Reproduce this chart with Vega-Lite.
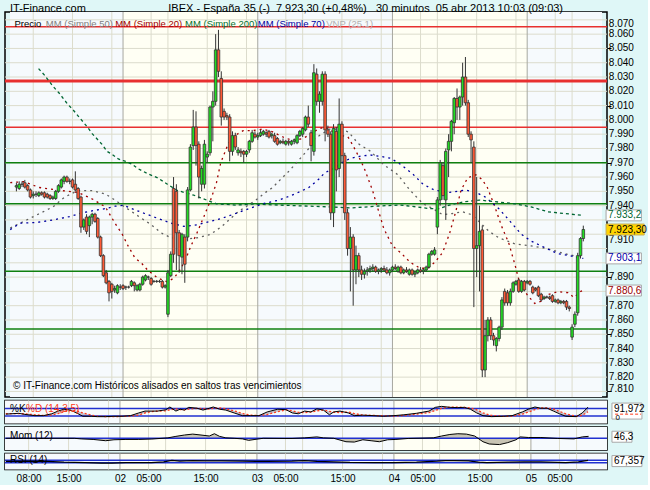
{
"$schema": "https://vega.github.io/schema/vega-lite/v6.json",
"background": "#dff7f7",
"padding": {"left": 2, "top": 2, "right": 0, "bottom": 0},
"title": {"text": "IT-Finance.com\u00a0\u00a0\u00a0\u00a0\u00a0\u00a0\u00a0\u00a0\u00a0\u00a0\u00a0\u00a0\u00a0\u00a0\u00a0\u00a0\u00a0\u00a0\u00a0\u00a0\u00a0\u00a0\u00a0\u00a0\u00a0\u00a0\u00a0IBEX - España 35 (-)\u00a0\u00a07.923,30 (+0,48%)\u00a0\u00a0\u00a030 minutos\u00a0\u00a005 abr 2013 10:03 (09:03)", "anchor": "start", "frame": "group", "dx": 5, "offset": -3, "font": "Liberation Sans", "fontSize": 11, "fontWeight": "normal", "color": "#000"},
"spacing": 3.5,
"bounds": "flush",
"config": {"view": {"stroke": "#000", "strokeWidth": 1.5}, "text": {"font": "Liberation Sans"}, "axis": {"labelOverlap": false, "labelFont": "Liberation Sans", "titleFontSize": 0}},
"datasets": {
"bands": [{"i": -2.28, "i2": 38, "k": "a"}, {"i": 38, "i2": 86, "k": "b"}, {"i": 86, "i2": 134, "k": "a"}, {"i": 134, "i2": 182, "k": "b"}, {"i": 182, "i2": 208.66, "k": "a"}],
"gridx": [{"g": 6, "k": "l"}, {"g": 20, "k": "l"}, {"g": 34, "k": "l"}, {"g": 38, "k": "d"}, {"g": 48, "k": "l"}, {"g": 54, "k": "l"}, {"g": 68, "k": "l"}, {"g": 82, "k": "l"}, {"g": 86, "k": "d"}, {"g": 96, "k": "l"}, {"g": 102, "k": "l"}, {"g": 116, "k": "l"}, {"g": 130, "k": "l"}, {"g": 134, "k": "d"}, {"g": 144, "k": "l"}, {"g": 150, "k": "l"}, {"g": 164, "k": "l"}, {"g": 178, "k": "l"}, {"g": 182, "k": "d"}, {"g": 192, "k": "l"}, {"g": 198, "k": "l"}],
"gridy": [{"v": 7810}, {"v": 7820}, {"v": 7830}, {"v": 7840}, {"v": 7850}, {"v": 7860}, {"v": 7870}, {"v": 7880}, {"v": 7890}, {"v": 7900}, {"v": 7910}, {"v": 7920}, {"v": 7930}, {"v": 7940}, {"v": 7950}, {"v": 7960}, {"v": 7970}, {"v": 7980}, {"v": 7990}, {"v": 8000}, {"v": 8010}, {"v": 8020}, {"v": 8030}, {"v": 8040}, {"v": 8050}, {"v": 8060}, {"v": 8070}],
"ylab": [{"v": 7810, "lab": "7.810", "k": "b"}, {"v": 7820, "lab": "7.820", "k": "n"}, {"v": 7830, "lab": "7.830", "k": "n"}, {"v": 7840, "lab": "7.840", "k": "n"}, {"v": 7850, "lab": "7.850", "k": "n"}, {"v": 7860, "lab": "7.860", "k": "n"}, {"v": 7870, "lab": "7.870", "k": "n"}, {"v": 7890, "lab": "7.890", "k": "n"}, {"v": 7910, "lab": "7.910", "k": "s"}, {"v": 7940, "lab": "7.940", "k": "n"}, {"v": 7950, "lab": "7.950", "k": "n"}, {"v": 7960, "lab": "7.960", "k": "n"}, {"v": 7970, "lab": "7.970", "k": "n"}, {"v": 7980, "lab": "7.980", "k": "n"}, {"v": 7990, "lab": "7.990", "k": "n"}, {"v": 8000, "lab": "8.000", "k": "n"}, {"v": 8010, "lab": "8.010", "k": "n"}, {"v": 8020, "lab": "8.020", "k": "n"}, {"v": 8030, "lab": "8.030", "k": "n"}, {"v": 8040, "lab": "8.040", "k": "n"}, {"v": 8050, "lab": "8.050", "k": "n"}, {"v": 8060, "lab": "8.060", "k": "n"}, {"v": 8070, "lab": "8.070", "k": "t"}],
"candles": [
{"i":0,"o":7953,"h":7956,"l":7950,"c":7954},{"i":1,"o":7952,"h":7957,"l":7951,"c":7955},{"i":2,"o":7955,"h":7957,"l":7953,"c":7955},{"i":3,"o":7956,"h":7958,"l":7952,"c":7953},{"i":4,"o":7954,"h":7955,"l":7950,"c":7951},{"i":5,"o":7951,"h":7952,"l":7945,"c":7946},{"i":6,"o":7947,"h":7950,"l":7945,"c":7948},{"i":7,"o":7948,"h":7950,"l":7946,"c":7948},{"i":8,"o":7947,"h":7950,"l":7946,"c":7949},{"i":9,"o":7949,"h":7950,"l":7947,"c":7948},
{"i":10,"o":7949,"h":7950,"l":7945,"c":7946},{"i":11,"o":7948,"h":7949,"l":7945,"c":7946},{"i":12,"o":7947,"h":7948,"l":7944,"c":7945},{"i":13,"o":7945,"h":7947,"l":7944,"c":7946},{"i":14,"o":7945,"h":7951,"l":7944,"c":7950},{"i":15,"o":7950,"h":7955,"l":7949,"c":7954},{"i":16,"o":7953,"h":7959,"l":7952,"c":7958},{"i":17,"o":7957,"h":7961,"l":7955,"c":7960},{"i":18,"o":7960,"h":7961,"l":7956,"c":7957},{"i":19,"o":7957,"h":7959,"l":7955,"c":7957},
{"i":20,"o":7958,"h":7959,"l":7952,"c":7953},{"i":21,"o":7955,"h":7964,"l":7950,"c":7951},{"i":22,"o":7952,"h":7953,"l":7944,"c":7945},{"i":23,"o":7946,"h":7947,"l":7921,"c":7925},{"i":24,"o":7925,"h":7931,"l":7923,"c":7930},{"i":25,"o":7932,"h":7934,"l":7920,"c":7922},{"i":26,"o":7926,"h":7933,"l":7918,"c":7932},{"i":27,"o":7932,"h":7935,"l":7927,"c":7934},{"i":28,"o":7934,"h":7935,"l":7928,"c":7929},{"i":29,"o":7931,"h":7932,"l":7917,"c":7918},
{"i":30,"o":7918,"h":7919,"l":7904,"c":7905},{"i":31,"o":7905,"h":7906,"l":7890,"c":7891},{"i":32,"o":7893,"h":7895,"l":7885,"c":7886},{"i":33,"o":7887,"h":7888,"l":7873,"c":7879},{"i":34,"o":7885,"h":7886,"l":7875,"c":7880},{"i":35,"o":7881,"h":7884,"l":7879,"c":7882},{"i":36,"o":7879,"h":7885,"l":7878,"c":7884},{"i":37,"o":7883,"h":7885,"l":7881,"c":7883},{"i":38,"o":7884,"h":7885,"l":7881,"c":7882},{"i":39,"o":7883,"h":7884,"l":7881,"c":7883},
{"i":40,"o":7883,"h":7884,"l":7882,"c":7883},{"i":41,"o":7884,"h":7888,"l":7883,"c":7887},{"i":42,"o":7886,"h":7887,"l":7880,"c":7884},{"i":43,"o":7881,"h":7885,"l":7880,"c":7884},{"i":44,"o":7881,"h":7886,"l":7880,"c":7885},{"i":45,"o":7885,"h":7891,"l":7884,"c":7890},{"i":46,"o":7888,"h":7892,"l":7887,"c":7891},{"i":47,"o":7890,"h":7891,"l":7888,"c":7890},{"i":48,"o":7889,"h":7890,"l":7884,"c":7885},{"i":49,"o":7887,"h":7888,"l":7886,"c":7887},
{"i":50,"o":7887,"h":7888,"l":7886,"c":7887},{"i":51,"o":7887,"h":7888,"l":7886,"c":7887},{"i":52,"o":7887,"h":7888,"l":7882,"c":7883},{"i":53,"o":7883,"h":7885,"l":7882,"c":7884},{"i":54,"o":7864,"h":7895,"l":7862,"c":7893},{"i":55,"o":7891,"h":7908,"l":7890,"c":7906},{"i":56,"o":7952,"h":7960,"l":7900,"c":7906},{"i":57,"o":7950,"h":7955,"l":7895,"c":7921},{"i":58,"o":7921,"h":7923,"l":7893,"c":7905},{"i":59,"o":7904,"h":7921,"l":7892,"c":7920},
{"i":60,"o":7918,"h":7920,"l":7886,"c":7899},{"i":61,"o":7918,"h":7953,"l":7915,"c":7951},{"i":62,"o":7951,"h":7983,"l":7950,"c":7981},{"i":63,"o":7982,"h":8007,"l":7979,"c":7995},{"i":64,"o":7995,"h":8006,"l":7968,"c":7982},{"i":65,"o":7983,"h":7985,"l":7945,"c":7960},{"i":66,"o":7955,"h":7968,"l":7950,"c":7966},{"i":67,"o":7955,"h":7986,"l":7952,"c":7983},{"i":68,"o":7974,"h":7978,"l":7970,"c":7976},{"i":69,"o":7977,"h":8010,"l":7975,"c":8009},
{"i":70,"o":8009,"h":8020,"l":7985,"c":8013},{"i":71,"o":8013,"h":8060,"l":8010,"c":8049},{"i":72,"o":8049,"h":8063,"l":8030,"c":8034},{"i":73,"o":8029,"h":8034,"l":7996,"c":8002},{"i":74,"o":8006,"h":8008,"l":8000,"c":8002},{"i":75,"o":8003,"h":8005,"l":8000,"c":8002},{"i":76,"o":8002,"h":8004,"l":7971,"c":7978},{"i":77,"o":7978,"h":7992,"l":7975,"c":7989},{"i":78,"o":7989,"h":7991,"l":7979,"c":7981},{"i":79,"o":7977,"h":7981,"l":7975,"c":7979},
{"i":80,"o":7978,"h":7980,"l":7974,"c":7977},{"i":81,"o":7978,"h":7979,"l":7970,"c":7976},{"i":82,"o":7976,"h":7979,"l":7974,"c":7978},{"i":83,"o":7979,"h":7986,"l":7977,"c":7985},{"i":84,"o":7985,"h":7993,"l":7984,"c":7991},{"i":85,"o":7990,"h":7992,"l":7987,"c":7988},{"i":86,"o":7988,"h":7991,"l":7986,"c":7989},{"i":87,"o":7989,"h":7993,"l":7988,"c":7991},{"i":88,"o":7990,"h":7993,"l":7989,"c":7992},{"i":89,"o":7991,"h":7992,"l":7988,"c":7990},
{"i":90,"o":7992,"h":7993,"l":7987,"c":7988},{"i":91,"o":7989,"h":7991,"l":7987,"c":7990},{"i":92,"o":7989,"h":7991,"l":7984,"c":7985},{"i":93,"o":7987,"h":7988,"l":7982,"c":7983},{"i":94,"o":7984,"h":7986,"l":7983,"c":7985},{"i":95,"o":7985,"h":7987,"l":7983,"c":7984},{"i":96,"o":7983,"h":7986,"l":7982,"c":7985},{"i":97,"o":7985,"h":7986,"l":7982,"c":7984},{"i":98,"o":7983,"h":7986,"l":7982,"c":7985},{"i":99,"o":7985,"h":7987,"l":7983,"c":7986},
{"i":100,"o":7984,"h":7990,"l":7983,"c":7989},{"i":101,"o":7989,"h":7993,"l":7988,"c":7992},{"i":102,"o":7990,"h":7995,"l":7988,"c":7994},{"i":103,"o":7993,"h":8003,"l":7992,"c":8002},{"i":104,"o":8002,"h":8010,"l":7995,"c":7997},{"i":105,"o":7991,"h":7993,"l":7971,"c":7982},{"i":106,"o":7978,"h":8039,"l":7975,"c":8033},{"i":107,"o":8032,"h":8036,"l":8010,"c":8013},{"i":108,"o":8013,"h":8020,"l":8005,"c":8018},{"i":109,"o":8013,"h":8034,"l":8010,"c":8032},
{"i":110,"o":8032,"h":8034,"l":7985,"c":7993},{"i":111,"o":7993,"h":7996,"l":7988,"c":7990},{"i":112,"o":7990,"h":7992,"l":7930,"c":7935},{"i":113,"o":7935,"h":7997,"l":7925,"c":7994},{"i":114,"o":7992,"h":7995,"l":7950,"c":7965},{"i":115,"o":7966,"h":8015,"l":7960,"c":7997},{"i":116,"o":7997,"h":7999,"l":7970,"c":7975},{"i":117,"o":7975,"h":7977,"l":7930,"c":7935},{"i":118,"o":7935,"h":7938,"l":7905,"c":7910},{"i":119,"o":7910,"h":7925,"l":7880,"c":7918},
{"i":120,"o":7918,"h":7920,"l":7870,"c":7895},{"i":121,"o":7895,"h":7912,"l":7885,"c":7905},{"i":122,"o":7905,"h":7907,"l":7890,"c":7895},{"i":123,"o":7895,"h":7898,"l":7888,"c":7892},{"i":124,"o":7892,"h":7896,"l":7889,"c":7894},{"i":125,"o":7894,"h":7897,"l":7891,"c":7895},{"i":126,"o":7895,"h":7898,"l":7893,"c":7896},{"i":127,"o":7896,"h":7899,"l":7894,"c":7897},{"i":128,"o":7897,"h":7898,"l":7893,"c":7894},{"i":129,"o":7894,"h":7896,"l":7892,"c":7895},
{"i":130,"o":7895,"h":7897,"l":7893,"c":7896},{"i":131,"o":7896,"h":7898,"l":7894,"c":7895},{"i":132,"o":7895,"h":7897,"l":7892,"c":7893},{"i":133,"o":7893,"h":7896,"l":7891,"c":7895},{"i":134,"o":7895,"h":7898,"l":7894,"c":7897},{"i":135,"o":7897,"h":7899,"l":7895,"c":7896},{"i":136,"o":7894,"h":7898,"l":7893,"c":7897},{"i":137,"o":7897,"h":7898,"l":7892,"c":7893},{"i":138,"o":7893,"h":7896,"l":7892,"c":7895},{"i":139,"o":7895,"h":7897,"l":7893,"c":7894},
{"i":140,"o":7892,"h":7896,"l":7891,"c":7895},{"i":141,"o":7895,"h":7896,"l":7891,"c":7892},{"i":142,"o":7892,"h":7894,"l":7890,"c":7893},{"i":143,"o":7893,"h":7896,"l":7892,"c":7895},{"i":144,"o":7895,"h":7897,"l":7893,"c":7894},{"i":145,"o":7894,"h":7896,"l":7892,"c":7895},{"i":146,"o":7895,"h":7898,"l":7894,"c":7897},{"i":147,"o":7897,"h":7907,"l":7896,"c":7906},{"i":148,"o":7906,"h":7909,"l":7905,"c":7908},{"i":149,"o":7906,"h":7911,"l":7905,"c":7909},
{"i":150,"o":7925,"h":7946,"l":7920,"c":7944},{"i":151,"o":7944,"h":7972,"l":7940,"c":7970},{"i":152,"o":7968,"h":7970,"l":7944,"c":7947},{"i":153,"o":7944,"h":7980,"l":7930,"c":7978},{"i":154,"o":7979,"h":7990,"l":7960,"c":7985},{"i":155,"o":7985,"h":8000,"l":7978,"c":7999},{"i":156,"o":7998,"h":8016,"l":7990,"c":8015},{"i":157,"o":8015,"h":8022,"l":8000,"c":8009},{"i":158,"o":8009,"h":8017,"l":8000,"c":8016},{"i":159,"o":8016,"h":8040,"l":8010,"c":8030},
{"i":160,"o":8030,"h":8044,"l":8010,"c":8012},{"i":161,"o":8012,"h":8014,"l":7988,"c":7990},{"i":162,"o":7990,"h":7992,"l":7970,"c":7986},{"i":163,"o":7981,"h":7985,"l":7869,"c":7910},{"i":164,"o":7910,"h":7960,"l":7890,"c":7912},{"i":165,"o":7912,"h":7940,"l":7880,"c":7922},{"i":166,"o":7923,"h":7926,"l":7820,"c":7825},{"i":167,"o":7825,"h":7860,"l":7820,"c":7849},{"i":168,"o":7849,"h":7862,"l":7845,"c":7860},{"i":169,"o":7860,"h":7862,"l":7846,"c":7849},
{"i":170,"o":7849,"h":7851,"l":7842,"c":7846},{"i":171,"o":7842,"h":7848,"l":7838,"c":7847},{"i":172,"o":7847,"h":7856,"l":7845,"c":7855},{"i":173,"o":7855,"h":7876,"l":7853,"c":7874},{"i":174,"o":7880,"h":7882,"l":7870,"c":7872},{"i":175,"o":7879,"h":7881,"l":7870,"c":7872},{"i":176,"o":7872,"h":7882,"l":7870,"c":7880},{"i":177,"o":7880,"h":7887,"l":7879,"c":7886},{"i":178,"o":7885,"h":7888,"l":7884,"c":7887},{"i":179,"o":7888,"h":7889,"l":7879,"c":7880},
{"i":180,"o":7880,"h":7888,"l":7879,"c":7887},{"i":181,"o":7887,"h":7888,"l":7880,"c":7881},{"i":182,"o":7886,"h":7888,"l":7885,"c":7887},{"i":183,"o":7887,"h":7888,"l":7884,"c":7885},{"i":184,"o":7883,"h":7884,"l":7878,"c":7879},{"i":185,"o":7882,"h":7883,"l":7880,"c":7881},{"i":186,"o":7883,"h":7884,"l":7876,"c":7877},{"i":187,"o":7878,"h":7879,"l":7873,"c":7874},{"i":188,"o":7875,"h":7877,"l":7874,"c":7876},{"i":189,"o":7876,"h":7877,"l":7875,"c":7876},
{"i":190,"o":7876,"h":7877,"l":7874,"c":7875},{"i":191,"o":7877,"h":7878,"l":7872,"c":7873},{"i":192,"o":7873,"h":7875,"l":7872,"c":7874},{"i":193,"o":7874,"h":7875,"l":7871,"c":7872},{"i":194,"o":7872,"h":7874,"l":7871,"c":7873},{"i":195,"o":7873,"h":7874,"l":7871,"c":7872},{"i":196,"o":7873,"h":7874,"l":7867,"c":7869},{"i":197,"o":7869,"h":7870,"l":7866,"c":7868},{"i":198,"o":7848,"h":7857,"l":7846,"c":7855},{"i":199,"o":7857,"h":7866,"l":7855,"c":7864},
{"i":200,"o":7865,"h":7907,"l":7863,"c":7905},{"i":201,"o":7905,"h":7918,"l":7903,"c":7917},{"i":202,"o":7917,"h":7926,"l":7915,"c":7923.3}
],
"ma": [
{"s":"MM20","i":-2.2,"p":7956.1},{"s":"MM20","i":2.6,"p":7956.8},{"s":"MM20","i":8.2,"p":7952.7},{"s":"MM20","i":15.2,"p":7950.7},{"s":"MM20","i":21.9,"p":7949.3},{"s":"MM20","i":27.2,"p":7944.5},{"s":"MM20","i":31.7,"p":7939.1},{"s":"MM20","i":35.2,"p":7927.5},{"s":"MM20","i":37.7,"p":7920},{"s":"MM20","i":39.8,"p":7911.8},{"s":"MM20","i":42.2,"p":7903.6},{"s":"MM20","i":44.7,"p":7899.5},{"s":"MM20","i":46.8,"p":7894.8},{"s":"MM20","i":50.3,"p":7889.4},{"s":"MM20","i":53.8,"p":7886.7},{"s":"MM20","i":56.2,"p":7889.4},{"s":"MM20","i":58.7,"p":7896.2},{"s":"MM20","i":60.4,"p":7903},{"s":"MM20","i":62.2,"p":7911.8},{"s":"MM20","i":64.3,"p":7920.7},{"s":"MM20","i":66.8,"p":7932.3},{"s":"MM20","i":69.2,"p":7943.9},{"s":"MM20","i":71.3,"p":7956.1},{"s":"MM20","i":72.8,"p":7970},{"s":"MM20","i":75.5,"p":7983.4},{"s":"MM20","i":77.9,"p":7989.1},{"s":"MM20","i":80.8,"p":7992.5},{"s":"MM20","i":84.3,"p":7992.5},{"s":"MM20","i":87.8,"p":7993.6},{"s":"MM20","i":91.3,"p":7991.6},{"s":"MM20","i":94.8,"p":7988.2},{"s":"MM20","i":98.3,"p":7985.6},{"s":"MM20","i":101.8,"p":7986.8},{"s":"MM20","i":104.1,"p":7989.1},{"s":"MM20","i":107.6,"p":7993.6},{"s":"MM20","i":109.8,"p":7995},{"s":"MM20","i":112.9,"p":7991.6},{"s":"MM20","i":115.8,"p":7989.1},{"s":"MM20","i":118.1,"p":7988.2},{"s":"MM20","i":119.9,"p":7982.2},{"s":"MM20","i":121.7,"p":7975.4},{"s":"MM20","i":123.9,"p":7966.4},{"s":"MM20","i":125.6,"p":7957.5},{"s":"MM20","i":126.9,"p":7950.7},{"s":"MM20","i":128.1,"p":7942.5},{"s":"MM20","i":130.9,"p":7924},{"s":"MM20","i":134,"p":7911.8},{"s":"MM20","i":136.8,"p":7907.3},{"s":"MM20","i":140.3,"p":7900.4},{"s":"MM20","i":143.8,"p":7896.2},{"s":"MM20","i":146.6,"p":7896.2},{"s":"MM20","i":149.1,"p":7900.4},{"s":"MM20","i":151.9,"p":7907.3},{"s":"MM20","i":154.4,"p":7920.9},{"s":"MM20","i":156.7,"p":7937},{"s":"MM20","i":158.4,"p":7950.7},{"s":"MM20","i":160.8,"p":7959.5},{"s":"MM20","i":163.7,"p":7961.6},{"s":"MM20","i":165.9,"p":7958.4},{"s":"MM20","i":167.8,"p":7952.7},{"s":"MM20","i":170.1,"p":7941.3},{"s":"MM20","i":172.9,"p":7925.5},{"s":"MM20","i":175.4,"p":7914.1},{"s":"MM20","i":177.7,"p":7898.2},{"s":"MM20","i":179.5,"p":7884.5},{"s":"MM20","i":182.4,"p":7876.6},{"s":"MM20","i":184.7,"p":7871.6},{"s":"MM20","i":187,"p":7873.2},{"s":"MM20","i":189.4,"p":7877.7},{"s":"MM20","i":192.9,"p":7879.8},{"s":"MM20","i":196.5,"p":7879.1},{"s":"MM20","i":198.7,"p":7875.7},{"s":"MM20","i":201.1,"p":7880},{"s":"MM20","i":202,"p":7880.6},
{"s":"MM50","i":-2.2,"p":7924.3},{"s":"MM50","i":1.3,"p":7927.7},{"s":"MM50","i":4.8,"p":7931.1},{"s":"MM50","i":8.3,"p":7934.5},{"s":"MM50","i":13,"p":7939.1},{"s":"MM50","i":17.1,"p":7945.9},{"s":"MM50","i":21.8,"p":7950.5},{"s":"MM50","i":27.1,"p":7950.5},{"s":"MM50","i":31.7,"p":7948.2},{"s":"MM50","i":35.2,"p":7943.8},{"s":"MM50","i":37.6,"p":7940.4},{"s":"MM50","i":41.1,"p":7935.8},{"s":"MM50","i":44.6,"p":7931.1},{"s":"MM50","i":48.1,"p":7926.6},{"s":"MM50","i":51.6,"p":7920.9},{"s":"MM50","i":55.1,"p":7917.5},{"s":"MM50","i":59.7,"p":7916.4},{"s":"MM50","i":64.4,"p":7917.5},{"s":"MM50","i":69.1,"p":7919.8},{"s":"MM50","i":73.2,"p":7925.5},{"s":"MM50","i":79,"p":7935.7},{"s":"MM50","i":85.3,"p":7943.9},{"s":"MM50","i":88.8,"p":7949.3},{"s":"MM50","i":91.3,"p":7952.7},{"s":"MM50","i":93.7,"p":7957.5},{"s":"MM50","i":97.2,"p":7964.3},{"s":"MM50","i":100.7,"p":7972},{"s":"MM50","i":104.2,"p":7980},{"s":"MM50","i":106.3,"p":7986.8},{"s":"MM50","i":108.8,"p":7990.2},{"s":"MM50","i":111.6,"p":7993.6},{"s":"MM50","i":114.8,"p":7993.6},{"s":"MM50","i":118.3,"p":7991.6},{"s":"MM50","i":121.8,"p":7983.4},{"s":"MM50","i":126.3,"p":7977.9},{"s":"MM50","i":130.9,"p":7968.6},{"s":"MM50","i":135.8,"p":7961.8},{"s":"MM50","i":140.3,"p":7950.7},{"s":"MM50","i":144.9,"p":7941.3},{"s":"MM50","i":148.4,"p":7937.9},{"s":"MM50","i":151.9,"p":7933.6},{"s":"MM50","i":155.4,"p":7934.5},{"s":"MM50","i":158.9,"p":7935.7},{"s":"MM50","i":162.4,"p":7933.6},{"s":"MM50","i":165.9,"p":7926.8},{"s":"MM50","i":168.4,"p":7922},{"s":"MM50","i":171.9,"p":7917.5},{"s":"MM50","i":177.7,"p":7913.2},{"s":"MM50","i":183.4,"p":7911.8},{"s":"MM50","i":189.4,"p":7909.8},{"s":"MM50","i":195.2,"p":7906.4},{"s":"MM50","i":198.7,"p":7905},{"s":"MM50","i":201.6,"p":7904.3},
{"s":"MM70","i":-2.2,"p":7923.2},{"s":"MM70","i":1.3,"p":7927.7},{"s":"MM70","i":7.2,"p":7928.2},{"s":"MM70","i":13,"p":7930},{"s":"MM70","i":18.9,"p":7932.3},{"s":"MM70","i":23.5,"p":7935},{"s":"MM70","i":28.2,"p":7936.8},{"s":"MM70","i":31.7,"p":7937.9},{"s":"MM70","i":35.2,"p":7939.6},{"s":"MM70","i":38.1,"p":7940.3},{"s":"MM70","i":41.1,"p":7937.9},{"s":"MM70","i":45.7,"p":7934.5},{"s":"MM70","i":50.4,"p":7931.1},{"s":"MM70","i":55.1,"p":7927.7},{"s":"MM70","i":59.7,"p":7925.5},{"s":"MM70","i":64.4,"p":7926.6},{"s":"MM70","i":69.1,"p":7928.9},{"s":"MM70","i":73.2,"p":7931.1},{"s":"MM70","i":80.8,"p":7936.4},{"s":"MM70","i":87.8,"p":7941.3},{"s":"MM70","i":93.6,"p":7943.9},{"s":"MM70","i":99.3,"p":7948.2},{"s":"MM70","i":104.2,"p":7952.7},{"s":"MM70","i":107.7,"p":7958.4},{"s":"MM70","i":109.8,"p":7962.9},{"s":"MM70","i":113.4,"p":7966.4},{"s":"MM70","i":116.9,"p":7971.1},{"s":"MM70","i":119.3,"p":7973.2},{"s":"MM70","i":122.8,"p":7974.7},{"s":"MM70","i":126.3,"p":7975.4},{"s":"MM70","i":129.8,"p":7974.5},{"s":"MM70","i":133.3,"p":7973.2},{"s":"MM70","i":136.8,"p":7969},{"s":"MM70","i":141.4,"p":7961.8},{"s":"MM70","i":144.9,"p":7955},{"s":"MM70","i":149.1,"p":7950.7},{"s":"MM70","i":154.3,"p":7949.3},{"s":"MM70","i":160.2,"p":7950.9},{"s":"MM70","i":163.7,"p":7949.3},{"s":"MM70","i":167.2,"p":7945.9},{"s":"MM70","i":171.9,"p":7937.9},{"s":"MM70","i":175.4,"p":7930.2},{"s":"MM70","i":179.9,"p":7920},{"s":"MM70","i":183.4,"p":7915.2},{"s":"MM70","i":188.2,"p":7910.7},{"s":"MM70","i":192.9,"p":7906.4},{"s":"MM70","i":197.4,"p":7905},{"s":"MM70","i":200.9,"p":7903},{"s":"MM70","i":202,"p":7903.1},
{"s":"MM200","i":7.9,"p":8035.9},{"s":"MM200","i":10,"p":8031.3},{"s":"MM200","i":13,"p":8023.6},{"s":"MM200","i":15.2,"p":8018.8},{"s":"MM200","i":18.3,"p":8010.9},{"s":"MM200","i":20,"p":8007.5},{"s":"MM200","i":21.8,"p":8003.2},{"s":"MM200","i":25.3,"p":7995},{"s":"MM200","i":27,"p":7990.4},{"s":"MM200","i":30.6,"p":7982.7},{"s":"MM200","i":32.3,"p":7978},{"s":"MM200","i":34.1,"p":7975.9},{"s":"MM200","i":36.3,"p":7972.7},{"s":"MM200","i":38.7,"p":7971.1},{"s":"MM200","i":41.1,"p":7969.1},{"s":"MM200","i":43.3,"p":7965.9},{"s":"MM200","i":46.8,"p":7962.3},{"s":"MM200","i":50.3,"p":7959.5},{"s":"MM200","i":53.8,"p":7955},{"s":"MM200","i":57.3,"p":7950.7},{"s":"MM200","i":63.2,"p":7947.3},{"s":"MM200","i":66.7,"p":7944.7},{"s":"MM200","i":71.3,"p":7941.3},{"s":"MM200","i":78.3,"p":7940.4},{"s":"MM200","i":84.3,"p":7941.1},{"s":"MM200","i":101.8,"p":7939.8},{"s":"MM200","i":112.3,"p":7939.1},{"s":"MM200","i":119.3,"p":7938.4},{"s":"MM200","i":129.8,"p":7939.8},{"s":"MM200","i":136.8,"p":7940.4},{"s":"MM200","i":142.8,"p":7939.1},{"s":"MM200","i":147.3,"p":7937.9},{"s":"MM200","i":150.8,"p":7937.9},{"s":"MM200","i":154.3,"p":7940.4},{"s":"MM200","i":158.9,"p":7942.5},{"s":"MM200","i":164.9,"p":7943.9},{"s":"MM200","i":171.9,"p":7942.5},{"s":"MM200","i":177.7,"p":7941.3},{"s":"MM200","i":183.4,"p":7939.1},{"s":"MM200","i":189.4,"p":7935.7},{"s":"MM200","i":195.2,"p":7934.5},{"s":"MM200","i":202,"p":7933.2}
],
"vbox": [{"v": 7933.2, "lab": "7.933,2", "k": "MM200"}, {"v": 7903.1, "lab": "7.903,1", "k": "MM70"}, {"v": 7880.6, "lab": "7.880,6", "k": "MM20"}],
"kd": [
{"i":-2,"k":35,"d":40},{"i":2.5,"k":42,"d":39},{"i":4.7,"k":33,"d":38},{"i":8.2,"k":23,"d":30},{"i":11.2,"k":23,"d":25},{"i":14.1,"k":38,"d":28},{"i":16.3,"k":60,"d":40},{"i":18.4,"k":75,"d":55},{"i":20.6,"k":68,"d":66},{"i":22.8,"k":45,"d":62},{"i":25,"k":18,"d":45},{"i":27.9,"k":18,"d":28},{"i":30.1,"k":15,"d":18},{"i":33,"k":15,"d":16},{"i":35.9,"k":18,"d":15},{"i":38.7,"k":18,"d":17},{"i":41.7,"k":23,"d":20},{"i":44.6,"k":45,"d":28},{"i":46.8,"k":60,"d":45},{"i":48.9,"k":60,"d":55},{"i":51.2,"k":60,"d":60},{"i":54.1,"k":71,"d":62},{"i":55.5,"k":93,"d":70},{"i":57.6,"k":60,"d":78},{"i":59.1,"k":75,"d":72},{"i":60.6,"k":68,"d":70},{"i":62.1,"k":90,"d":75},{"i":65,"k":83,"d":82},{"i":67.1,"k":68,"d":80},{"i":69.3,"k":83,"d":76},{"i":70.7,"k":93,"d":82},{"i":72.9,"k":75,"d":85},{"i":75.1,"k":68,"d":78},{"i":78,"k":45,"d":62},{"i":80.9,"k":23,"d":40},{"i":83.8,"k":23,"d":27},{"i":86.7,"k":23,"d":23},{"i":89.6,"k":53,"d":32},{"i":93.3,"k":75,"d":55},{"i":96.2,"k":71,"d":70},{"i":98.4,"k":45,"d":62},{"i":100.5,"k":38,"d":50},{"i":102.7,"k":60,"d":48},{"i":104.9,"k":53,"d":52},{"i":107,"k":78,"d":62},{"i":109.3,"k":68,"d":68},{"i":111.4,"k":30,"d":58},{"i":112.9,"k":53,"d":50},{"i":115.1,"k":60,"d":48},{"i":118,"k":45,"d":52},{"i":120.1,"k":23,"d":40},{"i":123.1,"k":27,"d":28},{"i":126.7,"k":23,"d":25},{"i":130.3,"k":18,"d":22},{"i":134,"k":23,"d":20},{"i":137.5,"k":30,"d":25},{"i":141.9,"k":42,"d":35},{"i":146.3,"k":60,"d":48},{"i":148.5,"k":90,"d":65},{"i":150.7,"k":98,"d":82},{"i":153.6,"k":90,"d":92},{"i":156.4,"k":88,"d":92},{"i":158.7,"k":90,"d":89},{"i":160.8,"k":75,"d":85},{"i":163,"k":45,"d":70},{"i":165.2,"k":23,"d":45},{"i":168.1,"k":15,"d":25},{"i":172.5,"k":18,"d":17},{"i":175.4,"k":23,"d":19},{"i":179,"k":53,"d":35},{"i":181.1,"k":75,"d":52},{"i":183.4,"k":93,"d":72},{"i":185.5,"k":83,"d":85},{"i":187.7,"k":83,"d":85},{"i":189.9,"k":60,"d":76},{"i":192,"k":38,"d":58},{"i":194.2,"k":18,"d":38},{"i":197.9,"k":15,"d":18},{"i":200,"k":45,"d":25},{"i":202,"k":92,"d":55}
],
"mom": [
{"i":-2,"m":0},{"i":14,"m":0},{"i":22,"m":0},{"i":24.4,"m":-14},{"i":28.6,"m":-27},{"i":33,"m":-58},{"i":35.9,"m":-35},{"i":40.1,"m":-27},{"i":44.6,"m":-27},{"i":49.2,"m":-18},{"i":54.8,"m":10},{"i":57.6,"m":46},{"i":60.6,"m":78},{"i":63.5,"m":100},{"i":66.4,"m":78},{"i":69.3,"m":54},{"i":71.1,"m":109},{"i":72.9,"m":46},{"i":75.1,"m":10},{"i":78,"m":0},{"i":80.9,"m":-14},{"i":83.1,"m":-49},{"i":85.3,"m":-27},{"i":88.2,"m":0},{"i":95.5,"m":-4},{"i":98.3,"m":-4},{"i":102.7,"m":10},{"i":107,"m":33},{"i":109.3,"m":10},{"i":112.9,"m":0},{"i":117.2,"m":-82},{"i":120.1,"m":-90},{"i":123.1,"m":-35},{"i":126,"m":-58},{"i":128.9,"m":-82},{"i":131.8,"m":-35},{"i":134.7,"m":-27},{"i":139,"m":-4},{"i":147.8,"m":10},{"i":150.7,"m":54},{"i":153.6,"m":91},{"i":156.4,"m":109},{"i":159.4,"m":100},{"i":162.3,"m":54},{"i":165.2,"m":-82},{"i":167.4,"m":-136},{"i":171,"m":-150},{"i":173.9,"m":-103},{"i":176.8,"m":-35},{"i":178.2,"m":33},{"i":181.1,"m":19},{"i":185.5,"m":19},{"i":191.4,"m":-4},{"i":197.1,"m":-14},{"i":200,"m":33},{"i":202.2,"m":46.3}
],
"rsi": [
{"i":-2,"r":51},{"i":5.4,"r":55},{"i":12.6,"r":51},{"i":18.4,"r":38},{"i":25.8,"r":30},{"i":31.5,"r":24},{"i":35.2,"r":24},{"i":40.1,"r":30},{"i":48.9,"r":30},{"i":53.3,"r":45},{"i":56.2,"r":70},{"i":59,"r":55},{"i":63.5,"r":65},{"i":67.8,"r":62},{"i":73.7,"r":59},{"i":80.9,"r":55},{"i":89.5,"r":51},{"i":98.3,"r":55},{"i":102.7,"r":65},{"i":107,"r":51},{"i":112.9,"r":45},{"i":118.6,"r":34},{"i":127.4,"r":30},{"i":134,"r":30},{"i":141.9,"r":38},{"i":149.2,"r":55},{"i":152.1,"r":65},{"i":155,"r":65},{"i":160.1,"r":59},{"i":163.7,"r":38},{"i":166.6,"r":30},{"i":173.9,"r":38},{"i":179.7,"r":45},{"i":185.5,"r":45},{"i":194.2,"r":30},{"i":198.6,"r":45},{"i":202,"r":67.4}
]
},
"vconcat": [
{
"width": 602, "height": 385,
"layer": [
{"data": {"name": "bands"}, "mark": {"type": "rect"}, "encoding": {"x": {"field": "i", "type": "quantitative", "scale": {"domain": [-2.28, 208.66], "nice": false, "zero": false}, "axis": null}, "x2": {"field": "i2"}, "color": {"field": "k", "type": "nominal", "scale": {"domain": ["a", "b"], "range": ["#f6fafd", "#fffff4"]}, "legend": null}}},
{"data": {"name": "gridy"}, "mark": {"type": "rule", "color": "#dcdccc", "strokeWidth": 1}, "encoding": {"y": {"field": "v", "type": "quantitative", "scale": {"domain": [7809.6, 8072], "nice": false, "zero": false}}}},
{"data": {"name": "gridx"}, "mark": {"type": "rule", "strokeWidth": 1}, "encoding": {"x": {"field": "g", "type": "quantitative", "axis": null}, "stroke": {"field": "k", "type": "nominal", "scale": {"domain": ["l", "d"], "range": ["#dcdccc", "#a8a8a0"]}, "legend": null}}},
{"data": {"values": [{"v": 8027.2}]}, "mark": {"type": "rule", "color": "#e83030", "strokeWidth": 3}, "encoding": {"y": {"field": "v", "type": "quantitative"}}},
{"data": {"values": [{"v": 7994.8}, {"v": 8065.2}]}, "mark": {"type": "rule", "color": "#e83030", "strokeWidth": 1.5}, "encoding": {"y": {"field": "v", "type": "quantitative"}}},
{"data": {"values": [{"v": 7970}, {"v": 7941.3}, {"v": 7894.1}, {"v": 7853.7}]}, "mark": {"type": "rule", "color": "#108010", "strokeWidth": 1.5}, "encoding": {"y": {"field": "v", "type": "quantitative"}}},
{"data": {"name": "ma"}, "mark": {"type": "line", "strokeWidth": 1.3}, "encoding": {"x": {"field": "i", "type": "quantitative", "axis": null}, "y": {"field": "p", "type": "quantitative"}, "color": {"field": "s", "type": "nominal", "scale": {"domain": ["MM20", "MM50", "MM200", "MM70"], "range": ["#a00000", "#606060", "#006633", "#0000a0"]}, "legend": null}, "strokeDash": {"field": "s", "type": "nominal", "scale": {"domain": ["MM20", "MM50", "MM200", "MM70"], "range": [[2, 4], [2, 4], [3, 3], [2, 4]]}, "legend": null}}},
{"data": {"name": "candles"}, "mark": {"type": "rule", "color": "#333333", "strokeWidth": 1}, "encoding": {"x": {"field": "i", "type": "quantitative", "axis": null}, "y": {"field": "l", "type": "quantitative"}, "y2": {"field": "h"}}},
{"data": {"name": "candles"}, "mark": {"type": "bar", "size": 2.6, "stroke": "#333333", "strokeWidth": 0.8}, "encoding": {"x": {"field": "i", "type": "quantitative", "axis": null}, "y": {"field": "o", "type": "quantitative", "axis": {"orient": "right", "values": [7810, 7820, 7830, 7840, 7850, 7860, 7870, 7880, 7890, 7900, 7910, 7920, 7930, 7940, 7950, 7960, 7970, 7980, 7990, 8000, 8010, 8020, 8030, 8040, 8050, 8060, 8070], "labels": false, "title": null, "grid": false, "domain": false, "ticks": true, "tickSize": 4, "tickColor": "#000", "tickWidth": 1}}, "y2": {"field": "c"}, "fill": {"condition": {"test": "datum.c < datum.o", "value": "#ff5a36"}, "value": "#22dd22"}}},
{"data": {"name": "ylab"}, "transform": [{"filter": "datum.k == 'n'"}], "mark": {"type": "text", "align": "left", "baseline": "middle", "fontSize": 10, "color": "#000", "clip": false}, "encoding": {"x": {"datum": 211.1, "type": "quantitative", "axis": null}, "y": {"field": "v", "type": "quantitative"}, "text": {"field": "lab"}}},
{"data": {"name": "ylab"}, "transform": [{"filter": "datum.k == 't'"}], "mark": {"type": "text", "align": "left", "baseline": "middle", "fontSize": 10, "color": "#000", "clip": false, "dy": 4}, "encoding": {"x": {"datum": 211.1, "type": "quantitative", "axis": null}, "y": {"field": "v", "type": "quantitative"}, "text": {"field": "lab"}}},
{"data": {"name": "ylab"}, "transform": [{"filter": "datum.k == 'b'"}], "mark": {"type": "text", "align": "left", "baseline": "middle", "fontSize": 10, "color": "#000", "clip": false, "dy": -2.5}, "encoding": {"x": {"datum": 211.1, "type": "quantitative", "axis": null}, "y": {"field": "v", "type": "quantitative"}, "text": {"field": "lab"}}},
{"data": {"name": "ylab"}, "transform": [{"filter": "datum.k == 's'"}], "mark": {"type": "text", "align": "left", "baseline": "middle", "fontSize": 10, "color": "#000", "clip": false, "dy": -9}, "encoding": {"x": {"datum": 211.1, "type": "quantitative", "axis": null}, "y": {"field": "v", "type": "quantitative"}, "text": {"field": "lab"}}},
{"data": {"values": [{}]}, "mark": {"type": "text", "align": "left", "baseline": "middle", "fontSize": 9.5, "color": "#000000"}, "encoding": {"x": {"datum": -0.7, "type": "quantitative", "axis": null}, "y": {"datum": 8067.2, "type": "quantitative"}, "text": {"value": "Precio"}}},
{"data": {"values": [{}]}, "mark": {"type": "text", "align": "left", "baseline": "middle", "fontSize": 9.5, "color": "#808080"}, "encoding": {"x": {"datum": 10.5, "type": "quantitative", "axis": null}, "y": {"datum": 8067.2, "type": "quantitative"}, "text": {"value": "MM (Simple 50)"}}},
{"data": {"values": [{}]}, "mark": {"type": "text", "align": "left", "baseline": "middle", "fontSize": 9.5, "color": "#a00000"}, "encoding": {"x": {"datum": 35.2, "type": "quantitative", "axis": null}, "y": {"datum": 8067.2, "type": "quantitative"}, "text": {"value": "MM (Simple 20)"}}},
{"data": {"values": [{}]}, "mark": {"type": "text", "align": "left", "baseline": "middle", "fontSize": 9.5, "color": "#007030"}, "encoding": {"x": {"datum": 60.1, "type": "quantitative", "axis": null}, "y": {"datum": 8067.2, "type": "quantitative"}, "text": {"value": "MM (Simple 200)"}}},
{"data": {"values": [{}]}, "mark": {"type": "text", "align": "left", "baseline": "middle", "fontSize": 9.5, "color": "#0000a0"}, "encoding": {"x": {"datum": 86.0, "type": "quantitative", "axis": null}, "y": {"datum": 8067.2, "type": "quantitative"}, "text": {"value": "MM (Simple 70)"}}},
{"data": {"values": [{}]}, "mark": {"type": "text", "align": "left", "baseline": "middle", "fontSize": 9.5, "color": "#b0b0b0"}, "encoding": {"x": {"datum": 110.4, "type": "quantitative", "axis": null}, "y": {"datum": 8067.2, "type": "quantitative"}, "text": {"value": "VNP (25,1)"}}},
{"data": {"values": [{}]}, "mark": {"type": "text", "align": "left", "baseline": "middle", "fontSize": 10, "color": "#000000"}, "encoding": {"x": {"datum": -1.2, "type": "quantitative", "axis": null}, "y": {"datum": 7813.7, "type": "quantitative"}, "text": {"value": "© IT-Finance.com  Históricos alisados en saltos tras vencimientos"}}},
{"data": {"name": "vbox"}, "mark": {"type": "bar", "orient": "horizontal", "size": 11, "fill": "#ffffff", "stroke": "#a8a8a8", "strokeWidth": 1, "clip": false}, "encoding": {"x": {"datum": 210.1, "type": "quantitative", "axis": null}, "x2": {"datum": 222.7}, "y": {"field": "v", "type": "quantitative"}}},
{"data": {"name": "vbox"}, "mark": {"type": "text", "align": "left", "baseline": "middle", "fontSize": 10, "clip": false}, "encoding": {"x": {"datum": 210.8, "type": "quantitative", "axis": null}, "y": {"field": "v", "type": "quantitative"}, "text": {"field": "lab"}, "color": {"field": "k", "type": "nominal", "scale": {"domain": ["MM200", "MM70", "MM20"], "range": ["#006633", "#0000aa", "#990000"]}, "legend": null}}},
{"data": {"values": [{"v": 7923.3, "lab": "7.923,30"}]}, "mark": {"type": "bar", "orient": "horizontal", "size": 11, "fill": "#ffd400", "stroke": "#c8b060", "strokeWidth": 1, "clip": false}, "encoding": {"x": {"datum": 210.1, "type": "quantitative", "axis": null}, "x2": {"datum": 223.7}, "y": {"field": "v", "type": "quantitative"}}},
{"data": {"values": [{"v": 7923.3, "lab": "7.923,30"}]}, "mark": {"type": "text", "align": "left", "baseline": "middle", "fontSize": 10, "color": "#000", "clip": false}, "encoding": {"x": {"datum": 210.8, "type": "quantitative", "axis": null}, "y": {"field": "v", "type": "quantitative"}, "text": {"field": "lab"}}}
],
"resolve": {"scale": {"color": "independent", "stroke": "independent", "strokeDash": "independent"}}
},
{
"width": 602, "height": 23,
"layer": [
{"data": {"name": "bands"}, "mark": {"type": "rect"}, "encoding": {"x": {"field": "i", "type": "quantitative", "scale": {"domain": [-2.28, 208.66], "nice": false, "zero": false}, "axis": null}, "x2": {"field": "i2"}, "color": {"field": "k", "type": "nominal", "scale": {"domain": ["a", "b"], "range": ["#f6fafd", "#fffff4"]}, "legend": null}}},
{"data": {"name": "gridx"}, "mark": {"type": "rule", "strokeWidth": 1}, "encoding": {"x": {"field": "g", "type": "quantitative", "axis": null}, "stroke": {"field": "k", "type": "nominal", "scale": {"domain": ["l", "d"], "range": ["#dcdccc", "#a8a8a0"]}, "legend": null}}},
{"data": {"name": "kd"}, "mark": {"type": "area", "color": "#c4c0cc"}, "encoding": {"x": {"field": "i", "type": "quantitative", "axis": null}, "y": {"field": "k", "type": "quantitative", "scale": {"domain": [0, 105], "nice": false, "zero": false}, "axis": null}, "y2": {"field": "d"}}},
{"data": {"values": [{"v": 20}, {"v": 80}]}, "mark": {"type": "rule", "color": "#2030d0", "strokeWidth": 1.5}, "encoding": {"y": {"field": "v", "type": "quantitative", "axis": null}}},
{"data": {"name": "kd"}, "mark": {"type": "line", "color": "#ff3a1a", "strokeWidth": 1.3, "strokeDash": [2, 2]}, "encoding": {"x": {"field": "i", "type": "quantitative", "axis": null}, "y": {"field": "d", "type": "quantitative", "axis": null}}},
{"data": {"name": "kd"}, "mark": {"type": "line", "color": "#000000", "strokeWidth": 1}, "encoding": {"x": {"field": "i", "type": "quantitative", "axis": null}, "y": {"field": "k", "type": "quantitative", "axis": null}}},
{"data": {"values": [{}]}, "mark": {"type": "text", "align": "left", "baseline": "middle", "fontSize": 10, "color": "#000"}, "encoding": {"x": {"datum": -0.5, "type": "quantitative", "axis": null}, "y": {"datum": 75, "type": "quantitative", "axis": null}, "text": {"value": "%K"}}},
{"data": {"values": [{}]}, "mark": {"type": "text", "align": "left", "baseline": "middle", "fontSize": 10, "color": "#ff3a1a"}, "encoding": {"x": {"datum": 5.1, "type": "quantitative", "axis": null}, "y": {"datum": 75, "type": "quantitative", "axis": null}, "text": {"value": "%D (14,3,5)"}}},
{"data": {"values": [{}]}, "mark": {"type": "bar", "orient": "horizontal", "size": 16, "fill": "#ffffff", "stroke": "#a8a8a8", "strokeWidth": 1, "clip": false}, "encoding": {"x": {"datum": 210.4, "type": "quantitative", "axis": null}, "x2": {"datum": 220.9}, "y": {"datum": 60, "type": "quantitative", "axis": null}}},
{"data": {"values": [{"lab": "91,972"}]}, "mark": {"type": "text", "align": "left", "baseline": "middle", "fontSize": 10, "color": "#000", "clip": false}, "encoding": {"x": {"datum": 211.1, "type": "quantitative", "axis": null}, "y": {"datum": 75, "type": "quantitative", "axis": null}, "text": {"field": "lab"}}},
{"data": {"values": [{}]}, "mark": {"type": "rule", "color": "#ff3a1a", "strokeWidth": 1, "strokeDash": [3, 2], "clip": false}, "encoding": {"x": {"datum": 211.5, "type": "quantitative", "axis": null}, "x2": {"datum": 220.6}, "y": {"datum": 35, "type": "quantitative", "axis": null}}},
{"data": {"values": [{"lab": "0"}]}, "mark": {"type": "text", "align": "left", "baseline": "middle", "fontSize": 8, "color": "#000", "clip": false}, "encoding": {"x": {"datum": 211.6, "type": "quantitative", "axis": null}, "y": {"datum": 6, "type": "quantitative", "axis": null}, "text": {"field": "lab"}}}
],
"resolve": {"scale": {"color": "independent", "stroke": "independent"}}
},
{
"width": 602, "height": 23,
"layer": [
{"data": {"name": "bands"}, "mark": {"type": "rect"}, "encoding": {"x": {"field": "i", "type": "quantitative", "scale": {"domain": [-2.28, 208.66], "nice": false, "zero": false}, "axis": null}, "x2": {"field": "i2"}, "color": {"field": "k", "type": "nominal", "scale": {"domain": ["a", "b"], "range": ["#f6fafd", "#fffff4"]}, "legend": null}}},
{"data": {"name": "gridx"}, "mark": {"type": "rule", "strokeWidth": 1}, "encoding": {"x": {"field": "g", "type": "quantitative", "axis": null}, "stroke": {"field": "k", "type": "nominal", "scale": {"domain": ["l", "d"], "range": ["#dcdccc", "#a8a8a0"]}, "legend": null}}},
{"data": {"name": "mom"}, "mark": {"type": "area", "color": "#c8c4b4"}, "encoding": {"x": {"field": "i", "type": "quantitative", "axis": null}, "y": {"field": "m", "type": "quantitative", "scale": {"domain": [-160, 150], "nice": false, "zero": false}, "axis": null}, "y2": {"datum": 0}}},
{"data": {"values": [{"v": 0}]}, "mark": {"type": "rule", "color": "#2030d0", "strokeWidth": 1.5}, "encoding": {"y": {"field": "v", "type": "quantitative", "axis": null}}},
{"data": {"name": "mom"}, "mark": {"type": "line", "color": "#000000", "strokeWidth": 1}, "encoding": {"x": {"field": "i", "type": "quantitative", "axis": null}, "y": {"field": "m", "type": "quantitative", "axis": null}}},
{"data": {"values": [{}]}, "mark": {"type": "text", "align": "left", "baseline": "middle", "fontSize": 10, "color": "#000"}, "encoding": {"x": {"datum": -0.5, "type": "quantitative", "axis": null}, "y": {"datum": 55, "type": "quantitative", "axis": null}, "text": {"value": "Mom (12)"}}},
{"data": {"values": [{}]}, "mark": {"type": "bar", "orient": "horizontal", "size": 11, "fill": "#ffffff", "stroke": "#a8a8a8", "strokeWidth": 1, "clip": false}, "encoding": {"x": {"datum": 210.4, "type": "quantitative", "axis": null}, "x2": {"datum": 217.4}, "y": {"datum": 37, "type": "quantitative", "axis": null}}},
{"data": {"values": [{"lab": "46,3"}]}, "mark": {"type": "text", "align": "left", "baseline": "middle", "fontSize": 10, "color": "#000", "clip": false}, "encoding": {"x": {"datum": 211.1, "type": "quantitative", "axis": null}, "y": {"datum": 37, "type": "quantitative", "axis": null}, "text": {"field": "lab"}}}
],
"resolve": {"scale": {"color": "independent", "stroke": "independent"}}
},
{
"width": 602, "height": 16,
"layer": [
{"data": {"name": "bands"}, "mark": {"type": "rect"}, "encoding": {"x": {"field": "i", "type": "quantitative", "scale": {"domain": [-2.28, 208.66], "nice": false, "zero": false}, "axis": {"values": [6, 20, 38, 48, 68, 86, 96, 116, 134, 144, 164, 182, 192], "labelExpr": "['08:00','15:00','02','05:00','15:00','03','05:00','15:00','04','05:00','15:00','05','05:00'][indexof([6,20,38,48,68,86,96,116,134,144,164,182,192], datum.value)]", "title": null, "grid": false, "domain": false, "ticks": false, "labelPadding": 4, "labelFont": "Liberation Sans", "labelFontSize": 10, "labelColor": "#000", "labelOverlap": false, "labelFlush": false}}, "x2": {"field": "i2"}, "color": {"field": "k", "type": "nominal", "scale": {"domain": ["a", "b"], "range": ["#f6fafd", "#fffff4"]}, "legend": null}}},
{"data": {"name": "gridx"}, "mark": {"type": "rule", "strokeWidth": 1}, "encoding": {"x": {"field": "g", "type": "quantitative"}, "stroke": {"field": "k", "type": "nominal", "scale": {"domain": ["l", "d"], "range": ["#dcdccc", "#a8a8a0"]}, "legend": null}}},
{"data": {"values": [{"v": 30}, {"v": 70}]}, "mark": {"type": "rule", "color": "#2030d0", "strokeWidth": 1.5}, "encoding": {"y": {"field": "v", "type": "quantitative", "scale": {"domain": [0, 100], "nice": false, "zero": false}, "axis": null}}},
{"data": {"name": "rsi"}, "mark": {"type": "line", "color": "#000000", "strokeWidth": 1.2}, "encoding": {"x": {"field": "i", "type": "quantitative"}, "y": {"field": "r", "type": "quantitative", "axis": null}}},
{"data": {"values": [{}]}, "mark": {"type": "text", "align": "left", "baseline": "middle", "fontSize": 10, "color": "#000"}, "encoding": {"x": {"datum": -0.5, "type": "quantitative"}, "y": {"datum": 68, "type": "quantitative", "axis": null}, "text": {"value": "RSI (14)"}}},
{"data": {"values": [{}]}, "mark": {"type": "bar", "orient": "horizontal", "size": 11, "fill": "#ffffff", "stroke": "#a8a8a8", "strokeWidth": 1, "clip": false}, "encoding": {"x": {"datum": 210.4, "type": "quantitative"}, "x2": {"datum": 220.9}, "y": {"datum": 57, "type": "quantitative", "axis": null}}},
{"data": {"values": [{"lab": "67,357"}]}, "mark": {"type": "text", "align": "left", "baseline": "middle", "fontSize": 10, "color": "#000", "clip": false}, "encoding": {"x": {"datum": 211.1, "type": "quantitative"}, "y": {"datum": 57, "type": "quantitative", "axis": null}, "text": {"field": "lab"}}}
],
"resolve": {"scale": {"color": "independent", "stroke": "independent"}}
}
]
}
